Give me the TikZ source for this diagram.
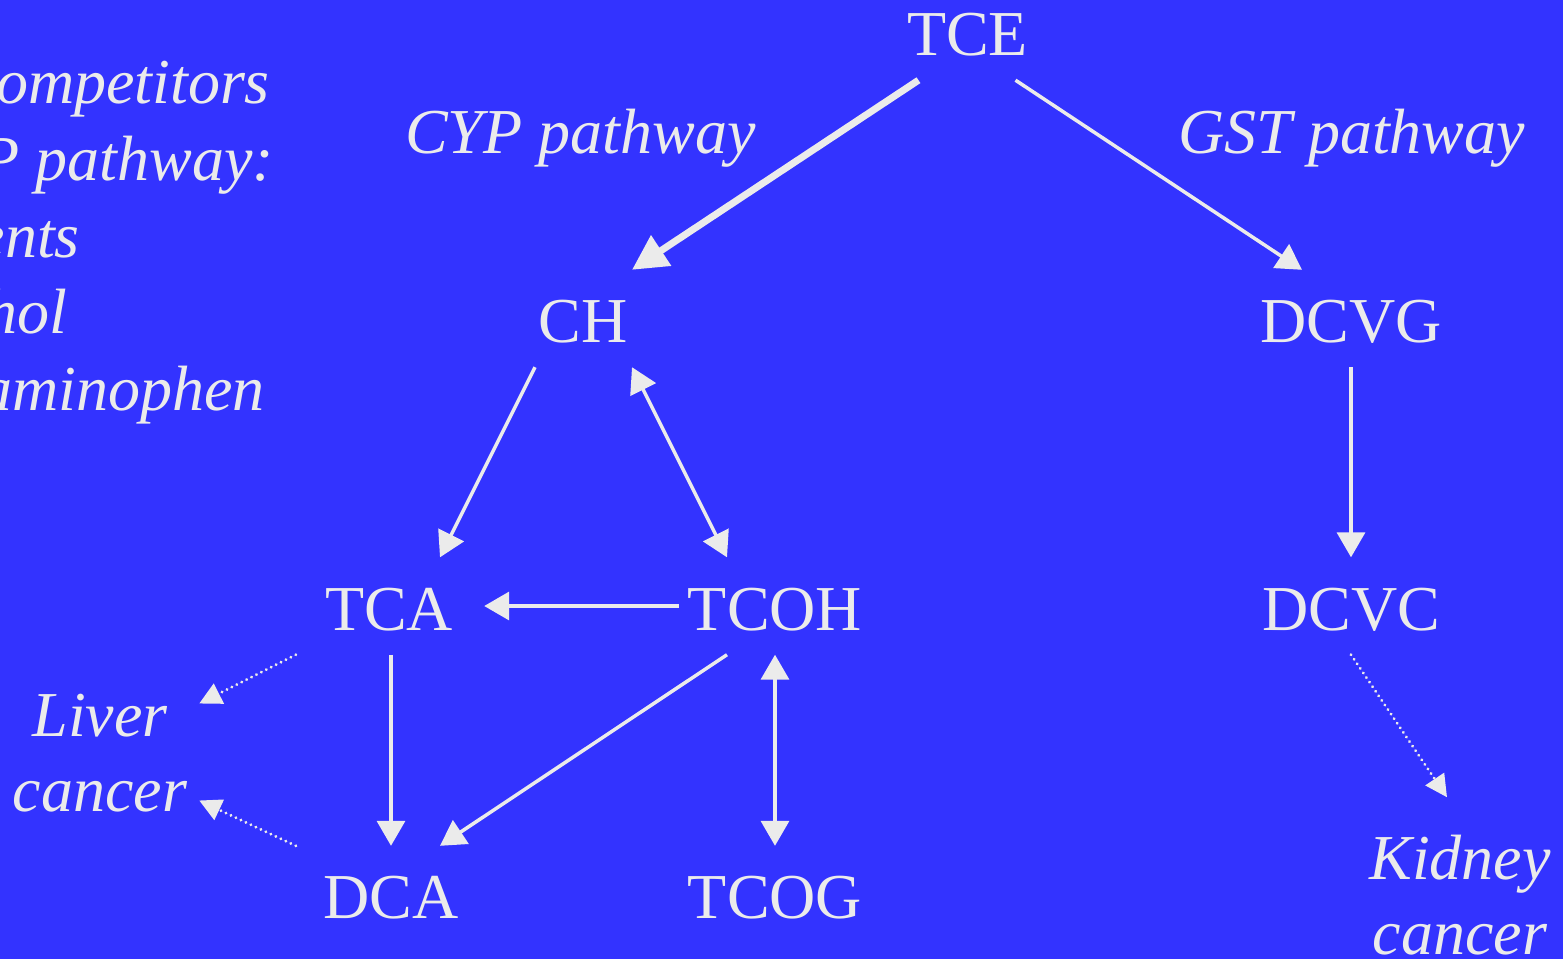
\documentclass[tikz,border=0pt]{standalone}
\usepackage{fontspec}
\setmainfont{Liberation Serif}
\usetikzlibrary{arrows.meta}
\definecolor{bg}{HTML}{3333FF}
\definecolor{fg}{HTML}{EBEBEB}
\begin{document}
\begin{tikzpicture}[x=1pt,y=-1pt,
  box/.style={minimum width=192pt, minimum height=97pt, inner sep=0pt, text=fg,
    font=\fontsize{64}{77}\selectfont, text height=48pt, text depth=0pt},
  lbl/.style={text=fg, font=\fontsize{64}{75}\selectfont\itshape, inner sep=0pt},
  conn/.style={draw=fg, line width=3.5pt, -{Triangle[length=25pt,width=28pt]}},
  biconn/.style={draw=fg, line width=3.5pt, {Triangle[length=25pt,width=28pt]}-{Triangle[length=25pt,width=28pt]}},
  heavy/.style={draw=fg, line width=7pt, -{Triangle[length=35pt,width=35pt]}},
  dots/.style={draw=fg, line width=3.2pt, line cap=round, dash pattern=on 0.01pt off 5.5pt,
    -{Triangle[length=22pt,width=22pt]}}
]
\useasboundingbox (0,0) rectangle (1563,959);
\clip (0,0) rectangle (1563,959);
\fill[bg] (0,0) rectangle (1563,959);

% left text (cut off at the left edge)
\node[lbl, anchor=base east] (c1) at (270,103) {ompetitors};
\node[lbl, anchor=base east] (c2) at (274,180) {P pathway:};
\node[lbl, anchor=base east] (c3) at (80,257) {ents};
\node[lbl, anchor=base east] (c4) at (67,333) {hol};
\node[lbl, anchor=base east] (c5) at (265,410) {aminophen};

% pathway labels
\node[lbl, anchor=base west] (cyp) at (405,153) {CYP pathway};
\node[lbl, anchor=base west] (gst) at (1178,153) {GST pathway};

% metabolites
\node[box] (tce)  at (967.5,31.5) {TCE};
\node[box] (ch)   at (583,318.5) {CH};
\node[box] (dcvg) at (1351,318.5) {DCVG};
\node[box] (tca)  at (389,606) {TCA};
\node[box] (tcoh) at (775,606) {TCOH};
\node[box] (dcvc) at (1351,606) {DCVC};
\node[box] (dca)  at (391,894.5) {DCA};
\node[box] (tcog) at (775,894.5) {TCOG};

% outcomes
\node[lbl, align=center] (liver)  at (100,753.5) {Liver\\cancer};
\node[lbl, align=center] (kidney) at (1460,895.5) {Kidney\\cancer};

% connectors
\draw[heavy] ([xshift=-49pt]tce.south) -- ([xshift=49pt]ch.north);
\draw[conn] ([xshift=48pt]tce.south) -- ([xshift=-49pt]dcvg.north);
\draw[conn] ([xshift=-48pt]ch.south) -- ([xshift=51pt]tca.north);
\draw[biconn] ([xshift=49pt]ch.south) -- ([xshift=-48pt]tcoh.north);
\draw[conn] (dcvg.south) -- (dcvc.north);
\draw[conn] (tcoh.west) -- ([xshift=-1pt]tca.east);
\draw[conn] ([xshift=2pt]tca.south) -- (dca.north);
\draw[conn] ([xshift=-48pt]tcoh.south) -- ([xshift=49pt]dca.north);
\draw[biconn] (tcoh.south) -- (tcog.north);
\draw[dots] ([xshift=3pt]tca.south west) -- ([shift={(12pt,50pt)}]liver.east);
\draw[dots] ([xshift=1pt]dca.north west) -- ([shift={(12pt,-47pt)}]liver.east);
\draw[dots] (dcvc.south) -- ([shift={(-13pt,38pt)}]kidney.north);
\end{tikzpicture}
\end{document}
